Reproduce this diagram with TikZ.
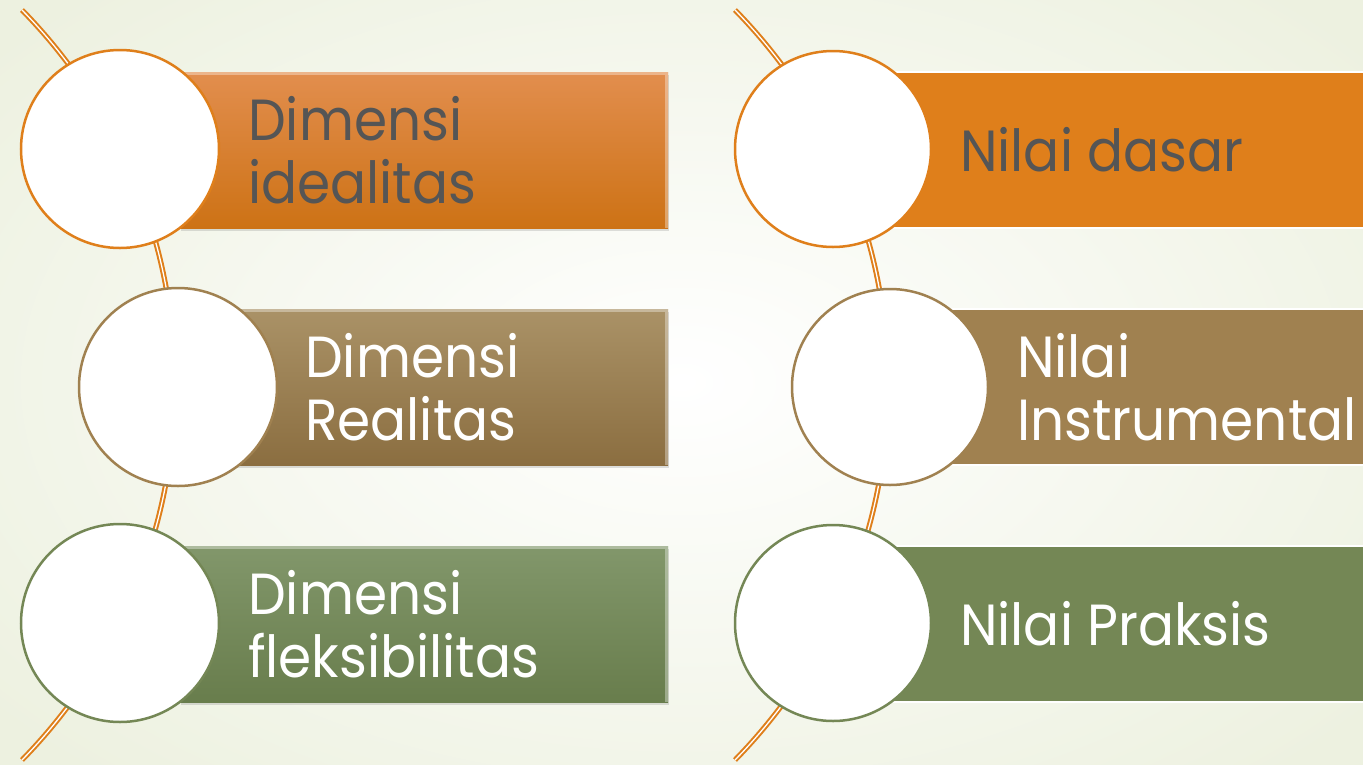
\documentclass[tikz,border=0pt]{standalone}
\usepackage{fontspec}
\setmainfont[FakeStretch=0.92]{Poppins}
\usetikzlibrary{shadows}
\definecolor{bgout}{HTML}{EDF1E0}
\definecolor{orA}{HTML}{E28E4E}
\definecolor{orB}{HTML}{CD7215}
\definecolor{orF}{HTML}{DF7F1B}
\definecolor{brA}{HTML}{AA9267}
\definecolor{brB}{HTML}{8B6E40}
\definecolor{brF}{HTML}{A08150}
\definecolor{grA}{HTML}{82976B}
\definecolor{grB}{HTML}{687D4C}
\definecolor{grF}{HTML}{748755}
\definecolor{txtdark}{HTML}{555555}
\begin{document}
\begin{tikzpicture}[x=1pt,y=-1pt,
  curve/.style={draw=orF, line width=2pt, double=white, double distance=1.3pt},
  ring/.style={circle, fill=white, line width=2.5pt, minimum size=198pt, inner sep=0pt},
  bevelbox/.style={rectangle, minimum height=156pt, inner sep=0pt,
     drop shadow={opacity=0.25, shadow xshift=1pt, shadow yshift=-3pt}},
  flatbox/.style={rectangle, minimum height=156pt, inner sep=0pt, draw=white, line width=1.5pt},
  hilite/.style={line width=3pt, draw=white, opacity=0.35},
  label/.style={anchor=west, align=left, font=\fontsize{58}{63}\selectfont, inner sep=0pt}
]
\useasboundingbox (0,0) rectangle (1363,764);
\shade[inner color=white, outer color=bgout] (-200,-150) rectangle (1563,914);

% decorative arcs
\coordinate (LT) at (22,10);
\coordinate (RT) at (735,10);
\draw[curve] (LT) arc[start angle=44.39, end angle=-44.39, radius=536.1pt];
\draw[curve] (RT) arc[start angle=44.39, end angle=-44.39, radius=536.1pt];

% left boxes
\node[bevelbox, minimum width=488pt, top color=orA, bottom color=orB] (lb1) at (424,150) {};
\node[bevelbox, minimum width=433pt, top color=brA, bottom color=brB] (lb2) at (451.5,387) {};
\node[bevelbox, minimum width=488pt, top color=grA, bottom color=grB] (lb3) at (424,624) {};
\foreach \b in {lb1,lb2,lb3}{
  \draw[hilite] ([yshift=-1.5pt]\b.north west) -- ([xshift=-1.5pt,yshift=-1.5pt]\b.north east) -- ([xshift=-1.5pt]\b.south east);
}

% right boxes
\node[flatbox, minimum width=540pt, fill=orF] (rb1) at (1103,150) {};
\node[flatbox, minimum width=483pt, fill=brF] (rb2) at (1131.5,387) {};
\node[flatbox, minimum width=540pt, fill=grF] (rb3) at (1103,624) {};

% circles
\node[ring, draw=orF] (lc1) at (120,149) {};
\node[ring, draw=brF] (lc2) at (178,387) {};
\node[ring, draw=grF] (lc3) at (120,623) {};
\node[ring, draw=orF, minimum size=196pt] (rc1) at (833,149) {};
\node[ring, draw=brF, minimum size=196pt] (rc2) at (890,387) {};
\node[ring, draw=grF, minimum size=196pt] (rc3) at (833,623) {};

% texts
\node[label, text=txtdark] (t1) at (248,150) {Dimensi\\idealitas};
\node[label, text=white] (t2) at (305,387) {Dimensi\\Realitas};
\node[label, text=white] (t3) at (248,624) {Dimensi\\fleksibilitas};
\node[label, text=txtdark] (t4) at (960,150) {Nilai dasar};
\node[label, text=white] (t5) at (1017,387) {Nilai\\Instrumental};
\node[label, text=white] (t6) at (960,624) {Nilai Praksis};
\end{tikzpicture}
\end{document}
